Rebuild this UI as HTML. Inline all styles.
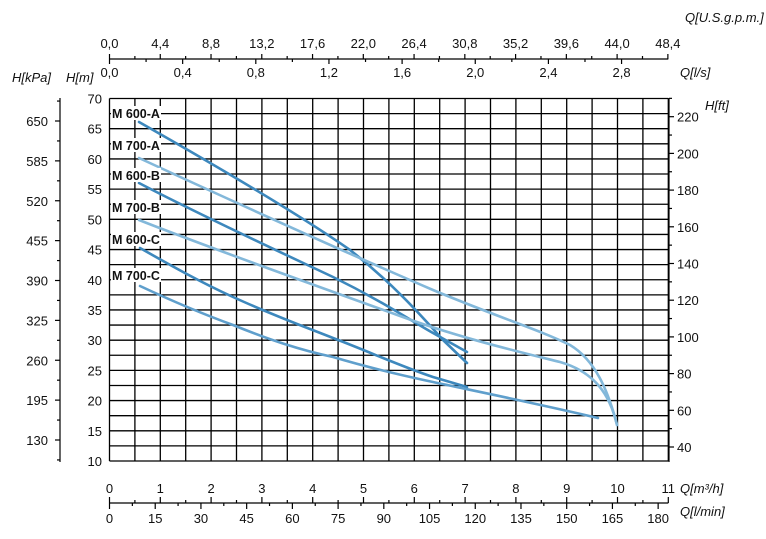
<!DOCTYPE html>
<html><head><meta charset="utf-8"><style>
body{margin:0;background:#fff;}
svg{display:block;font-family:"Liberation Sans",sans-serif;}
</style></head><body>
<svg width="766" height="539" viewBox="0 0 766 539" xmlns="http://www.w3.org/2000/svg">
<g id="grid" stroke="#000" stroke-width="1.3"></g>
<g id="ax" stroke="#000" stroke-width="1.2" fill="none"></g>
<g id="tx" font-size="13" fill="#111"></g>
<g fill="none" stroke-width="2.6" stroke-linecap="round" stroke-linejoin="round">
<path stroke="#3d88bd" d="M139,122 C220,168 300,215 350,250 C395,285 425,320 443,340 L467,363"/>
<path stroke="#83b8da" d="M139,158 C230,200 340,250 433,290 C500,318 540,330 570,345 C595,360 608,390 617,425"/>
<path stroke="#3d88bd" d="M139,183 C200,215 280,252 333,277 C380,300 410,320 433,333 L467,352"/>
<path stroke="#83b8da" d="M139,220 C200,244 300,280 400,316 C460,338 520,352 560,362 C595,372 610,395 617,425"/>
<path stroke="#3d88bd" d="M140,248 C170,265 200,282 233,297 C270,314 300,325 333,338 C370,352 400,366 433,377 L467,387"/>
<path stroke="#5f9fcc" d="M140,286 C170,300 200,313 233,325 C270,340 300,350 333,357 C370,368 400,375 433,382 C470,390 530,402 598,418"/>
</g>
<g fill="#fff">
<rect x="111" y="106" width="50" height="14"/><rect x="111" y="138" width="50" height="14"/>
<rect x="111" y="168" width="50" height="14"/><rect x="111" y="200" width="50" height="14"/>
<rect x="111" y="232" width="50" height="14"/><rect x="111" y="268" width="50" height="14"/>
</g>
<g font-size="12.5" font-weight="bold" fill="#111">
<text x="112" y="118">M 600-A</text><text x="112" y="150">M 700-A</text>
<text x="112" y="180">M 600-B</text><text x="112" y="212">M 700-B</text>
<text x="112" y="244">M 600-C</text><text x="112" y="280">M 700-C</text>
</g>
<script>
const ns="http://www.w3.org/2000/svg";
function el(p,t,a,txt){const e=document.createElementNS(ns,t);for(const k in a)e.setAttribute(k,a[k]);if(txt!==undefined)e.textContent=txt;document.getElementById(p).appendChild(e);}
const X0=109.5,DX=50.8,Y70=98.5,Y10=461;
const X=q=>X0+q*DX, Y=h=>Y10-(h-10)*(Y10-Y70)/60;
for(let i=0;i<=22;i++)el("grid","line",{x1:X(i/2),x2:X(i/2),y1:Y70,y2:Y10});
for(let i=0;i<=24;i++)el("grid","line",{x1:X0,x2:X(11),y1:Y(10+i*2.5),y2:Y(10+i*2.5)});
for(let h=10;h<=70;h+=5)el("tx","text",{x:102,y:Y(h)+5,"text-anchor":"end"},h);
el("ax","line",{x1:60,x2:60,y1:98,y2:462});
for(let i=0;i<=8;i++){const v=130+65*i,y=440-(v-130)*319/520;el("ax","line",{x1:55,x2:60,y1:y,y2:y});el("tx","text",{x:48,y:y+5,"text-anchor":"end"},v);}
for(let i=-1;i<=8;i++){const y=440-(162.5+65*i-130)*319/520;if(y>98&&y<462)el("ax","line",{x1:57,x2:60,y1:y,y2:y});}
el("ax","line",{x1:669,x2:669,y1:98,y2:462});
for(let v=40;v<=220;v+=20){const y=447-(v-40)*36.7/20;el("ax","line",{x1:669,x2:674,y1:y,y2:y});el("tx","text",{x:677,y:y+5},v);}
for(let v=30;v<=230;v+=20){const y=447-(v-40)*36.7/20;if(y>98&&y<462)el("ax","line",{x1:669,x2:672,y1:y,y2:y});}
el("ax","line",{x1:X0,x2:X(11),y1:503,y2:503});
for(let q=0;q<=11;q++){el("tx","text",{x:X(q),y:493,"text-anchor":"middle"},q);el("ax","line",{x1:X(q),x2:X(q),y1:497,y2:503});}
for(let q=0.5;q<11;q++)el("ax","line",{x1:X(q),x2:X(q),y1:500,y2:503});
for(let l=0;l<=180;l+=15){const x=X(l*0.06);el("ax","line",{x1:x,x2:x,y1:503,y2:509});el("tx","text",{x:x,y:523,"text-anchor":"middle"},l);}
for(let l=7.5;l<180;l+=15){const x=X(l*0.06);el("ax","line",{x1:x,x2:x,y1:503,y2:506});}
el("ax","line",{x1:X0,x2:X(11),y1:59,y2:59});
for(let i=0;i<=11;i++){const g=4.4*i,x=X(g*0.2271);el("ax","line",{x1:x,x2:x,y1:54,y2:59});el("tx","text",{x:x,y:48,"text-anchor":"middle"},g.toFixed(1).replace(".",","));}
for(let i=0;i<11;i++){const x=X((4.4*i+2.2)*0.2271);el("ax","line",{x1:x,x2:x,y1:56,y2:59});}
for(let i=0;i<=7;i++){const l=0.4*i,x=X(l*3.6);el("ax","line",{x1:x,x2:x,y1:59,y2:64});el("tx","text",{x:x,y:77,"text-anchor":"middle"},l.toFixed(1).replace(".",","));}
for(let i=0;i<7;i++){const x=X((0.4*i+0.2)*3.6);el("ax","line",{x1:x,x2:x,y1:59,y2:62});}
</script>
<g font-size="13" font-style="italic" fill="#111">
<text x="685" y="22">Q[U.S.g.p.m.]</text>
<text x="680" y="77">Q[l/s]</text>
<text x="12" y="82">H[kPa]</text>
<text x="66" y="82">H[m]</text>
<text x="705" y="110">H[ft]</text>
<text x="680" y="493">Q[m³/h]</text>
<text x="680" y="516">Q[l/min]</text>
</g>
</svg>
</body></html>
